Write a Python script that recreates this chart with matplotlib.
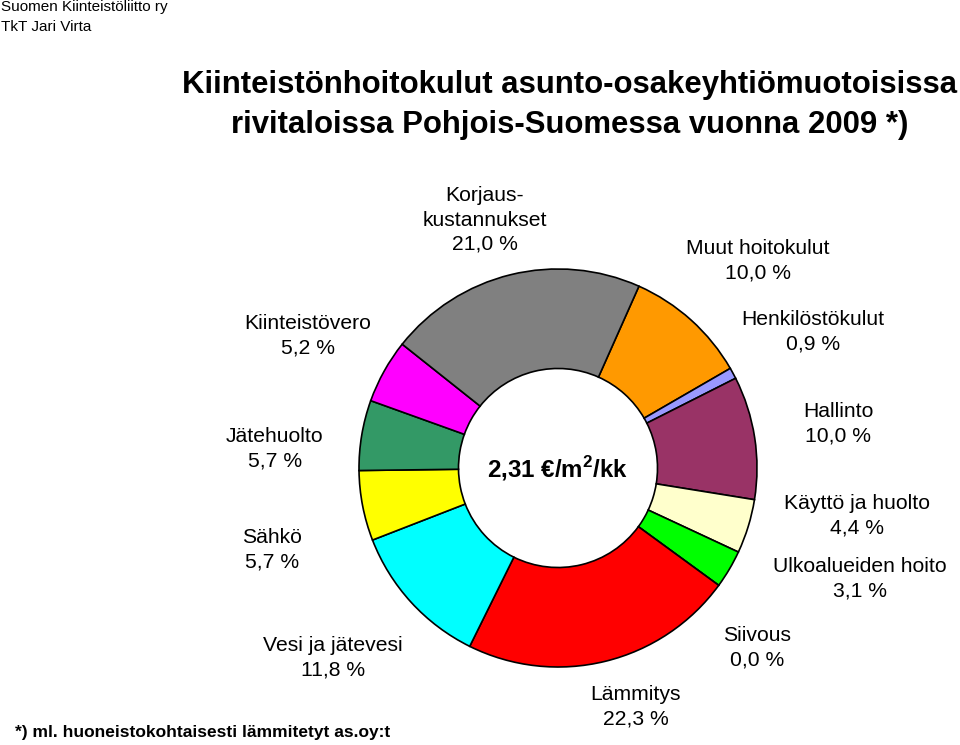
import numpy as np
import matplotlib
matplotlib.use("Agg")
import matplotlib.pyplot as plt

plt.rcParams['font.family'] = ['Liberation Sans', 'DejaVu Sans']
plt.rcParams['mathtext.fontset'] = 'custom'
plt.rcParams['mathtext.rm'] = 'Liberation Sans'
plt.rcParams['mathtext.bf'] = 'Liberation Sans:bold'

# kulurakenne, %-osuudet (myötäpäivään ylhäältä alkaen)
nimet = ["Muut hoitokulut", "Henkilöstökulut", "Hallinto", "Käyttö ja huolto",
         "Ulkoalueiden hoito", "Siivous", "Lämmitys", "Vesi ja jätevesi",
         "Sähkö", "Jätehuolto", "Kiinteistövero", "Korjaus-\nkustannukset"]
osuudet = [10.0, 0.9, 10.0, 4.4, 3.1, 0.0, 22.3, 11.8, 5.7, 5.7, 5.2, 21.0]
varit = ["#FF9900", "#9999FF", "#993366", "#FFFFCC", "#00FF00", "#3366FF",
         "#FF0000", "#00FFFF", "#FFFF00", "#339966", "#FF00FF", "#808080"]

# tekstien paikat kuvassa (pikseleinä, y ylhäältä)
paikat = [(758, 261), (813, 332), (838, 424), (857, 516), (860, 579),
          (757, 648), (636, 707), (333, 658), (272, 550), (275, 449),
          (308, 336), (485, 220)]

W, H = 960, 745
fig = plt.figure(figsize=(9.6, 7.45), dpi=100)
ax = fig.add_axes([0, 0, 1, 1])

kx, ky = 558, 468   # keskipiste
R = 199

ax.pie(osuudet, colors=varit, startangle=66, counterclock=False,
       center=(kx, H - ky), radius=R, normalize=True,
       wedgeprops=dict(width=R * 0.5, edgecolor='black', linewidth=1.2),
       frame=True)
ax.set_xlim(0, W)
ax.set_ylim(0, H)
ax.set_aspect('equal')
ax.axis('off')

for nimi, arvo, (px, py) in zip(nimet, osuudet, paikat):
    teksti = nimi + "\n" + ("%.1f %%" % arvo).replace(".", ",")
    ax.text(px, H - py, teksti, ha='center', va='center', fontsize=15.2,
            linespacing=1.36)

ax.text(kx, H - ky - 1, r"2,31 €/m$^{\mathbf{2}}$/kk", ha='center', va='center',
        fontsize=17.4, fontweight='bold')

fig.text(570 / W, 1 - 105 / H,
         "Kiinteistönhoitokulut asunto-osakeyhtiömuotoisissa\nrivitaloissa Pohjois-Suomessa vuonna 2009 *)",
         ha='center', va='center', fontsize=22.4, fontweight='bold',
         linespacing=1.4)

fig.text(1 / W, 1 - 17 / H, "Suomen Kiinteistöliitto ry\nTkT Jari Virta",
         ha='left', va='center', fontsize=11, linespacing=1.5)

fig.text(15 / W, 1 - 733 / H, "*) ml. huoneistokohtaisesti lämmitetyt as.oy:t",
         ha='left', va='center', fontsize=12.5, fontweight='bold')

fig.savefig("out.png", dpi=100)
